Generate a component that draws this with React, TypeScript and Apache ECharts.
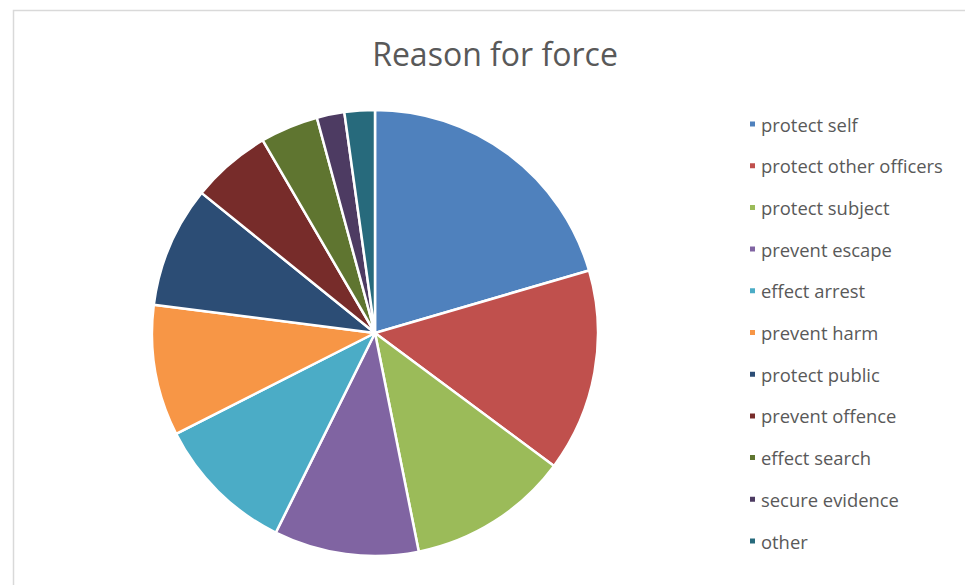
import React, { useEffect, useRef } from "react";
import * as echarts from "echarts";

const categories = [
  "protect self",
  "protect other officers",
  "protect subject",
  "prevent escape",
  "effect arrest",
  "prevent harm",
  "protect public",
  "prevent offence",
  "effect search",
  "secure evidence",
  "other",
];
const values = [20.5, 14.7, 11.7, 10.5, 10.2, 9.5, 8.8, 5.8, 4.2, 2.0, 2.2];
const colors = [
  "#4F81BD",
  "#C0504D",
  "#9BBB59",
  "#8064A2",
  "#4BACC6",
  "#F79646",
  "#2C4D75",
  "#772C2A",
  "#5F7530",
  "#4D3B62",
  "#276A7C",
];
const titleText = "Reason for force";

export default function App() {
  const ref = useRef<HTMLDivElement>(null);
  useEffect(() => {
    if (!ref.current) return;
    const chart = echarts.init(ref.current, undefined, { renderer: "svg" });
    chart.setOption({
      animation: false,
      backgroundColor: "#ffffff",
      color: colors,
      title: {
        text: titleText,
        left: 490,
        top: 32,
        textAlign: "center",
        textStyle: {
          fontFamily: "Open Sans",
          fontSize: 32,
          fontWeight: "normal",
          color: "#595959",
        },
      },
      legend: {
        orient: "vertical",
        left: 743,
        top: 109,
        padding: 5,
        icon: "rect",
        itemWidth: 7,
        itemHeight: 7,
        itemGap: 21.7,
        data: categories,
        textStyle: {
          fontFamily: "Open Sans",
          fontSize: 18.4,
          color: "#595959",
          lineHeight: 20,
        },
      },
      graphic: [
        {
          type: "rect",
          shape: { x: 13.5, y: 10.5, width: 1200, height: 1000 },
          style: { fill: "none", stroke: "#d9d9d9", lineWidth: 1.5 },
          silent: true,
        },
      ],
      series: [
        {
          type: "pie",
          center: [375, 333],
          radius: 223,
          startAngle: 90,
          clockwise: true,
          label: { show: false },
          labelLine: { show: false },
          itemStyle: { borderColor: "#ffffff", borderWidth: 2.5 },
          emphasis: { disabled: true },
          data: categories.map((name, i) => ({ name, value: values[i] })),
        },
      ],
    });
    return () => chart.dispose();
  }, []);
  return (
    <div
      ref={ref}
      style={{ position: "absolute", left: 0, top: 0, width: 965, height: 585 }}
    />
  );
}
